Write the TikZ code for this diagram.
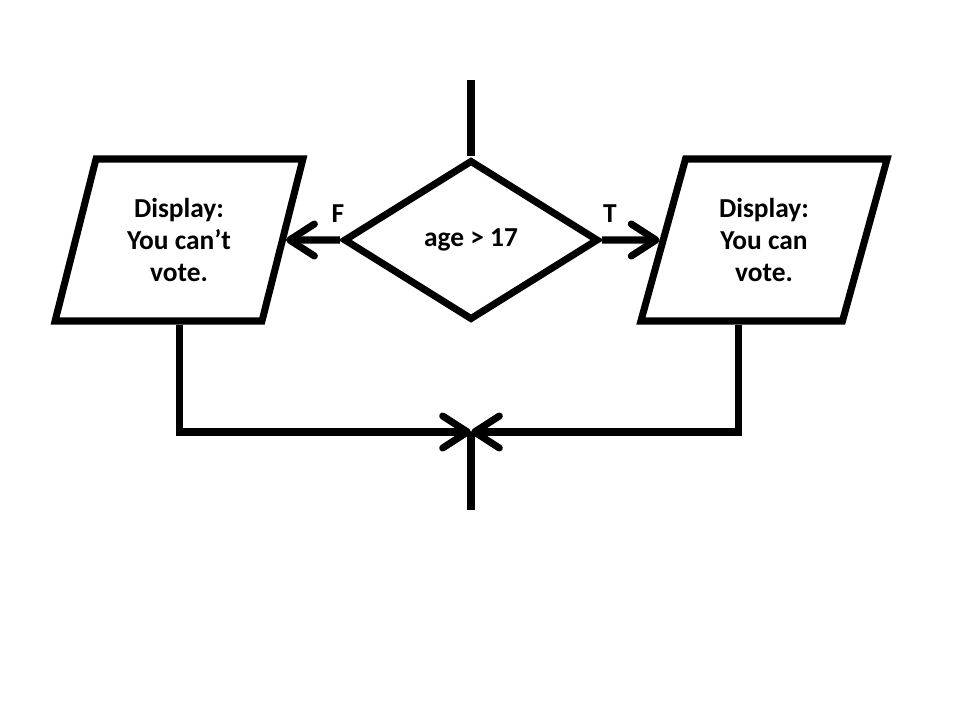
\documentclass[tikz,border=0pt]{standalone}
\usepackage{fontspec}
\setmainfont{Carlito}
\usepackage{tikz}
\usetikzlibrary{arrows.meta}
\usetikzlibrary{shapes.geometric}
\tikzset{>={Straight Barb[length=0.62cm,width=0.8cm,round]}}
\tikzset{
	flow/.style={line width=5pt},
	decision/.style={diamond, draw, line width=5pt, inner sep=0pt, minimum width=6.375cm, minimum height=4cm},
	io/.style={trapezium, draw, line width=5pt, trapezium left angle=72.8, trapezium right angle=107.2, trapezium stretches=true, minimum width=6.2cm, minimum height=4.05cm, align=center, inner sep=0pt},
	lbl/.style={font=\bfseries\fontsize{19.5}{22.5}\selectfont}
}

\begin{document}
\begin{tikzpicture}
				\useasboundingbox (0,0) rectangle (24,18);
				\node[decision, lbl] (cond) at (11.775,12) {age > 17};
				\node[io, lbl] (no) at (4.475,12) {Display:\\You can’t\\vote.};
				\node[io, lbl] (yes) at (19.1,12) {Display:\\You can\\vote.};
				\coordinate (start) at (11.775,16);
				\coordinate (join) at (11.775,7.2);
				\coordinate (stop) at (11.775,5.25);

				\node[lbl] (f) at ([xshift=-0.05cm,yshift=0.65cm]cond.west) {F};
				\node[lbl] (t) at ([xshift=0.2cm,yshift=0.65cm]cond.east) {T};

				% branches
				\draw[flow] (start) -- (cond.north);
				\draw[flow,->] (cond.west) -- (no.east);
				\draw[flow,->] (cond.east) -- (yes.west);

				% merge
				\draw[flow,->] (no.south) |- (join);
				\draw[flow,->] ([xshift=-0.65cm]yes.south) |- (join);
				\draw[flow] (join) -- (stop);
			\end{tikzpicture}
\end{document}
